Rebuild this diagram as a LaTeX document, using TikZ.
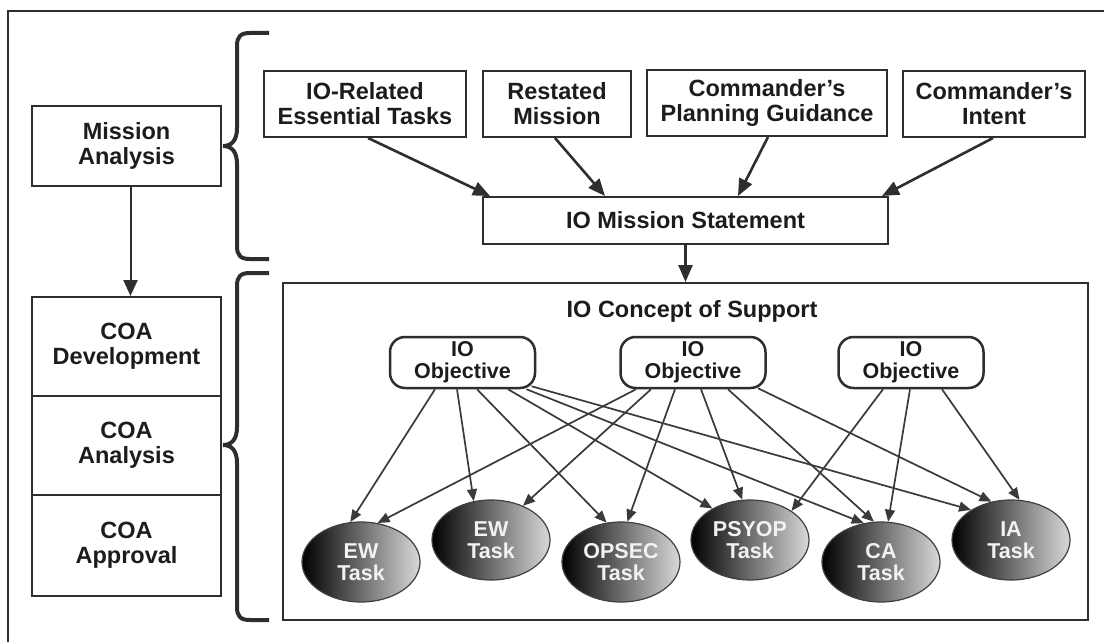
\documentclass[tikz,border=0pt]{standalone}
\usepackage{fontspec}
\setmainfont{Liberation Sans}
\usetikzlibrary{arrows.meta,shapes.geometric,calc}
\definecolor{ink}{HTML}{2E2E2E}
\definecolor{txt}{HTML}{1C1C1C}
\definecolor{edgecol}{HTML}{3A3A3A}
\begin{document}
\begin{tikzpicture}[x=1pt,y=-1pt,
  box/.style={draw=ink, line width=2pt, align=center, text=txt, inner sep=0pt,
    font=\fontsize{23.5}{25}\selectfont\bfseries},
  objbox/.style={draw=ink, line width=2.5pt, rounded corners=15pt, align=center, text=txt,
    inner sep=0pt, minimum width=145pt, minimum height=51pt,
    font=\fontsize{21.5}{22}\selectfont\bfseries},
  taskell/.style={ellipse, draw=black!75, line width=1.2pt, left color=black, right color=black!15,
    minimum width=118pt, minimum height=80pt, inner sep=0pt, align=center, text=white!95!black,
    font=\fontsize{21.5}{22}\selectfont\bfseries},
  bigarrow/.style={draw=ink, line width=2.6pt, -{Triangle[length=17pt,width=14pt]}},
  midarrow/.style={draw=ink, line width=2pt, -{Triangle[length=16pt,width=14pt]}},
  edge/.style={draw=edgecol, line width=1.7pt, -{Triangle[length=12pt,width=10pt]}},
  bracepath/.style={draw=ink, line width=4pt},
  frame/.style={draw=ink, line width=2pt}]
\useasboundingbox (0,0) rectangle (1104,642);
\fill[white] (0,0) rectangle (1104,642);
% outer frame
\draw[frame] (7.5,642) -- (7.5,11) -- (1104,11);

% left column
\node[box, minimum width=189pt, minimum height=80pt] (ma) at (126.5,146) {Mission\\Analysis};
\node[box, minimum width=189pt, minimum height=99pt] (coa1) at (126.5,346.5) {COA\\Development};
\node[box, minimum width=189pt, minimum height=99pt] (coa2) at (126.5,445.5) {COA\\Analysis};
\node[box, minimum width=189pt, minimum height=101pt] (coa3) at (126.5,545.5) {COA\\Approval};
\draw[midarrow] ([xshift=4pt]ma.south) -- ([xshift=4pt]coa1.north);

% braces
\draw[bracepath] (269,33) -- (250,33) .. controls (240,33) and (237,37) .. (237,46) -- (237,128)
  .. controls (237,140) and (232,146) .. (223,146) .. controls (232,146) and (237,152) .. (237,164)
  -- (237,246) .. controls (237,255) and (240,259) .. (250,259) -- (269,259);
\draw[bracepath] (269,273) -- (250,273) .. controls (240,273) and (237,277) .. (237,286) -- (237,427)
  .. controls (237,439) and (232,445) .. (223,445) .. controls (232,445) and (237,451) .. (237,463)
  -- (237,607) .. controls (237,616) and (240,620) .. (250,620) -- (269,620);

% top inputs
\node[box, minimum width=202pt, minimum height=66pt] (irt) at (365,104) {IO-Related\\Essential Tasks};
\node[box, minimum width=148pt, minimum height=66pt] (rm) at (557,104) {Restated\\Mission};
\node[box, minimum width=240pt, minimum height=66pt] (cpg) at (767,103) {Commander’s\\Planning Guidance};
\node[box, minimum width=182pt, minimum height=66pt] (ci) at (994,104) {Commander’s\\Intent};
\node[box, minimum width=405pt, minimum height=47pt] (ms) at (685.5,220.5) {IO Mission Statement};

\draw[bigarrow] ([xshift=3pt]irt.south) -- ([xshift=-195.5pt]ms.north);
\draw[bigarrow] ([xshift=-2pt]rm.south) -- ([xshift=-80.5pt]ms.north);
\draw[bigarrow] ([xshift=1pt]cpg.south) -- ([xshift=52.5pt]ms.north);
\draw[bigarrow] ([xshift=-1pt]ci.south) -- ([xshift=196.5pt]ms.north);

% concept of support
\node[box, minimum width=805pt, minimum height=337pt] (concept) at (685.5,451.5) {};
\draw[bigarrow] (ms.south) -- (concept.north);
\node[text=txt, inner sep=0pt, font=\fontsize{23.5}{25}\selectfont\bfseries] (title) at (692,311) {IO Concept of Support};

\node[objbox] (o1) at (462.5,362.5) {IO\\Objective};
\node[objbox] (o2) at (693,362.5) {IO\\Objective};
\node[objbox] (o3) at (911,362.5) {IO\\Objective};

\node[taskell] (ew1) at (361,562) {EW\\Task};
\node[taskell] (ew2) at (491,540) {EW\\Task};
\node[taskell] (ops) at (621,562) {OPSEC\\Task};
\node[taskell] (psy) at (750,540) {PSYOP\\Task};
\node[taskell] (ca) at (881,562) {CA\\Task};
\node[taskell] (ia) at (1011,540) {IA\\Task};

% edges from objective 1
\draw[edge] ([xshift=-27.5pt]o1.south) -- (ew1.105);
\draw[edge] ([xshift=-5.5pt]o1.south) -- (ew2.114);
\draw[edge] ([xshift=14.5pt]o1.south) -- (ops.110);
\draw[edge] ([xshift=45.5pt]o1.south) -- (psy.140);
\draw[edge] ([xshift=64pt]o1.south) -- (ca.114);
\draw[edge] ([xshift=69pt,yshift=3pt]o1.south) -- (ia.143);
% edges from objective 2
\draw[edge] ([xshift=-57pt]o2.south) -- (ew1.67);
\draw[edge] ([xshift=-42pt]o2.south) -- (ew2.47);
\draw[edge] ([xshift=-18pt]o2.south) -- (ops.81);
\draw[edge] ([xshift=8pt]o2.south) -- (psy.101);
\draw[edge] ([xshift=35pt]o2.south) -- (ca.100);
\draw[edge] ([xshift=65pt,yshift=1pt]o2.south) -- (ia.117);
% edges from objective 3
\draw[edge] ([xshift=-28pt]o3.south) -- (psy.35);
\draw[edge] ([xshift=-1pt]o3.south) -- (ca.80);
\draw[edge] ([xshift=31pt]o3.south) -- (ia.78);
\end{tikzpicture}
\end{document}
